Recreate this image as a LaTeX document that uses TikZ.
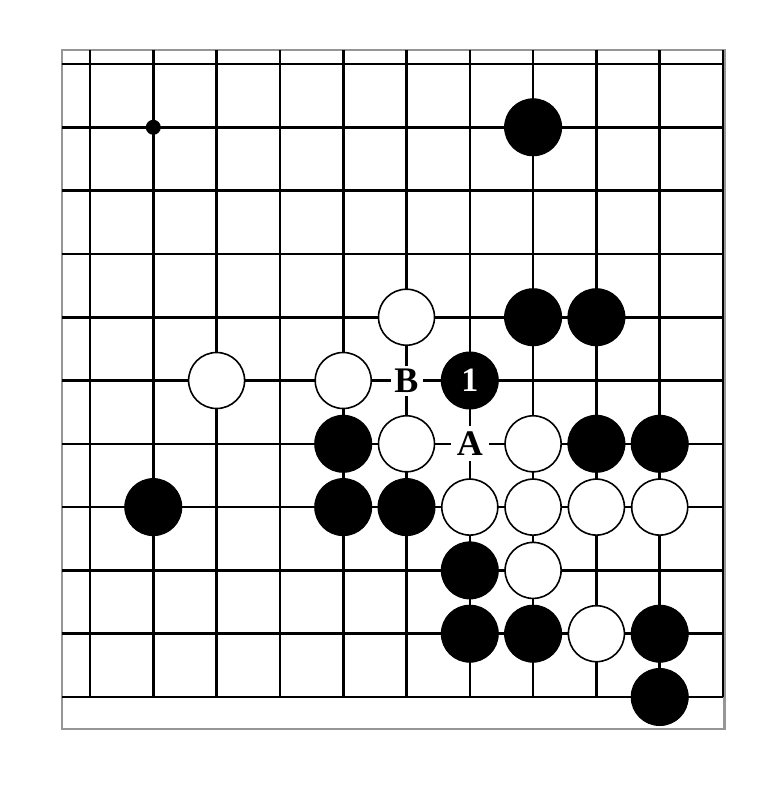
\documentclass[tikz,border=0pt]{standalone}
\usepackage{fontspec}
\setmainfont{Liberation Serif}
\definecolor{frame}{RGB}{150,150,150}
\tikzset{
  gridline/.style={line width=2.6pt, black},
  blk/.style={circle, fill=black, draw=black, line width=1pt, minimum size=57pt, inner sep=0pt},
  wht/.style={circle, fill=white, draw=black, line width=1.6pt, minimum size=56pt, inner sep=0pt},
  lbl/.style={fill=white, inner sep=0pt, font=\fontsize{36}{36}\selectfont\bfseries},
  num/.style={text=white, font=\fontsize{34}{34}\selectfont\bfseries},
}
\begin{document}
\begin{tikzpicture}[x=1pt,y=-1pt]
  \useasboundingbox (0,0) rectangle (774,785);
  \fill[white] (0,0) rectangle (774,785);
  % frame
  \draw[frame, line width=2.6pt] (62,50) rectangle (724.5,729);
  % grid
  \foreach \j in {0,...,10}
    \draw[gridline] (62,{64+63.3*\j}) -- (723,{64+63.3*\j});
  \foreach \i in {0,...,10}
    \draw[gridline] ({90+63.3*\i},50) -- ({90+63.3*\i},697);
  % star point
  \node[circle, fill=black, inner sep=0pt, minimum size=15pt] (star) at ({90+63.3},{64+63.3}) {};
  % black stones
  \foreach \c/\r in {7/1, 7/4, 8/4, 4/6, 8/6, 9/6, 1/7, 4/7, 5/7, 6/8, 6/9, 7/9, 9/9, 9/10}
    \node[blk] (b\c-\r) at ({90+63.3*\c},{64+63.3*\r}) {};
  % white stones
  \foreach \c/\r in {5/4, 2/5, 4/5, 5/6, 7/6, 6/7, 7/7, 8/7, 9/7, 7/8, 8/9}
    \node[wht] (w\c-\r) at ({90+63.3*\c},{64+63.3*\r}) {};
  % move 1
  \node[blk, num] (m1) at ({90+63.3*6},{64+63.3*5}) {1};
  % labels
  \node[lbl, minimum width=32pt, minimum height=30pt] (lB) at ({90+63.3*5},{64+63.3*5}) {B};
  \node[lbl, minimum width=38pt, minimum height=35pt] (lA) at ({90+63.3*6},{64+63.3*6}) {A};
\end{tikzpicture}
\end{document}
